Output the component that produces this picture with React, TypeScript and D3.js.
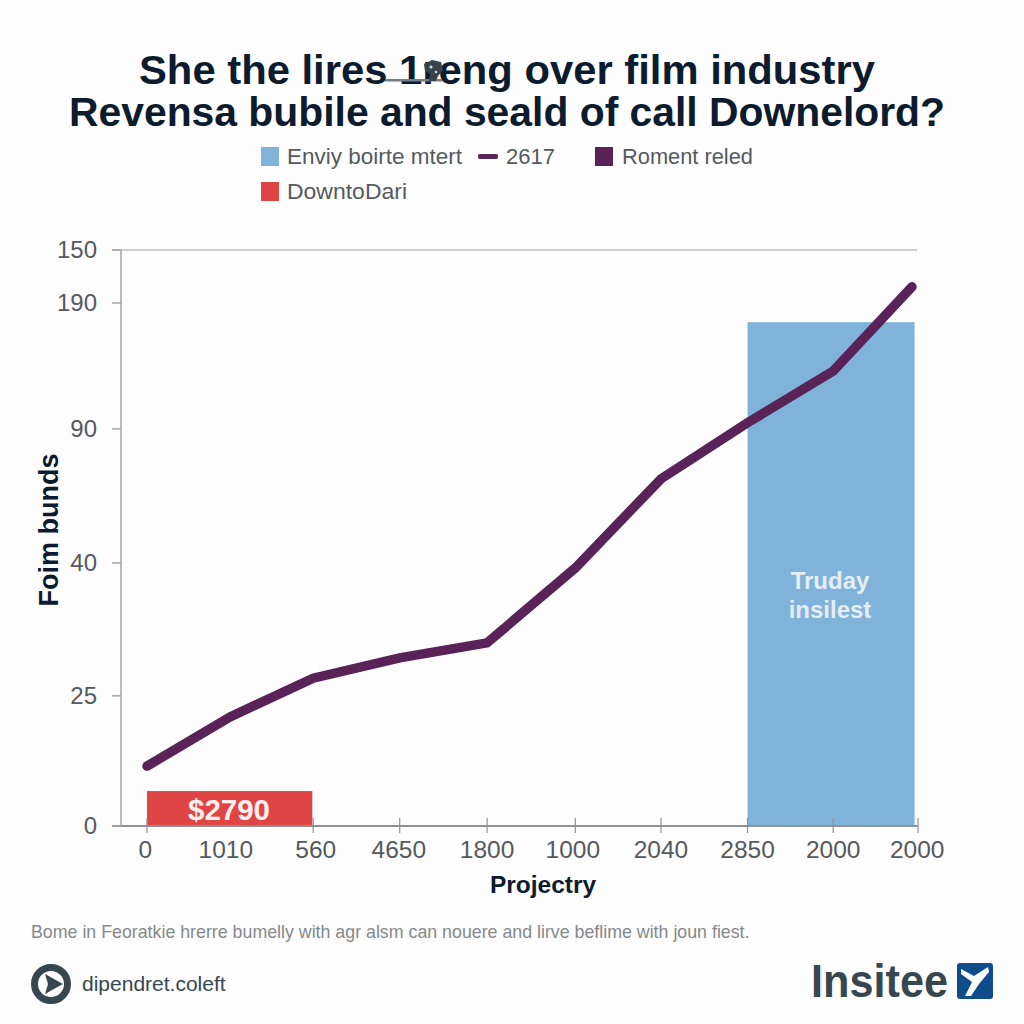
import React from 'react';
import * as d3 from 'd3';

const xTickLabels = ['0', '1010', '560', '4650', '1800', '1000', '2040', '2850', '2000', '2000'];
const xLabelPeriods = [-0.02, 0.92, 1.97, 2.94, 3.97, 4.97, 6, 7.01, 8.01, 8.99];
const xTickPeriods = [0, 1.94, 2.95, 3.97, 5, 6, 7.01, 8.01, 9];
const linePeriods = [0, 0.97, 1.94, 2.95, 3.97, 5, 6, 7.01, 8.01, 8.93];
const lineValues = [15.6, 28.4, 38.5, 43.8, 47.7, 67.2, 90.4, 105, 118.5, 140.4];
const yTickLabels = ['0', '25', '40', '90', '190', '150'];
const yTickValues = [0, 33.9, 68.5, 103.4, 136.2, 150];
const redBar = { from: 0, to: 1.93, value: 9.1, label: '$2790' };
const blueBar = { from: 7.01, to: 8.96, value: 131.2, label: ['Truday', 'insilest'] };
const titleLines = ['She the lires 1reng over film industry', 'Revensa bubile and seald of call Downelord?'];
const titleWidths = [736, 876];

const x = d3.scaleLinear().domain([0, 9]).range([147, 918]);
const y = d3.scaleLinear().domain([0, 150]).range([826, 250]);
const lineGen = d3
  .line<number>()
  .x((_, i) => x(linePeriods[i]))
  .y((d) => y(d));

const SANS = '"Liberation Sans", Arial, sans-serif';
const DARK = '#0c1b2e';
const GREY = '#555a5e';
const AXIS = '#a3a5a7';
const PURPLE = '#5a2358';
const BLUE = '#7fb3da';
const RED = '#e04545';
const SLATE = '#37474f';

export default function App() {
  return (
    <svg
      width={1024}
      height={1024}
      viewBox="0 0 1024 1024"
      style={{ position: 'absolute', left: 0, top: 0, background: '#fdfdfd', fontFamily: SANS }}
    >
      {titleLines.map((t, i) => (
        <text
          key={i}
          x={507}
          y={84 + i * 41.5}
          textAnchor="middle"
          fontSize={40.5}
          fontWeight={700}
          fill={DARK}
          textLength={titleWidths[i]}
          lengthAdjust="spacingAndGlyphs"
        >
          {t}
        </text>
      ))}
      <g>
        <rect x={385} y={79} width={57} height={2.5} fill="#767d83" />
        <path d="M424 64 L432 60 L441 62 L443 70 L438 76 L436 81 L429 81 L430 74 L425 71 Z" fill="#38434c" />
        <circle cx={431} cy={67} r={1.6} fill="#d5d8da" />
        <circle cx={436} cy={72} r={1.3} fill="#d5d8da" />
      </g>

      <g fontSize={22} fill={GREY}>
        <rect x={261} y={147} width={18} height={19} fill={BLUE} />
        <text x={287} y={164} textLength={175} lengthAdjust="spacingAndGlyphs">Enviy boirte mtert</text>
        <rect x={478} y={154} width={20} height={5} rx={2} fill={PURPLE} />
        <text x={506} y={164}>2617</text>
        <rect x={595} y={147} width={18} height={19} fill={PURPLE} />
        <text x={622} y={164} textLength={131} lengthAdjust="spacingAndGlyphs">Roment reled</text>
        <rect x={261} y={182} width={18} height={19} fill={RED} />
        <text x={287} y={199} textLength={120} lengthAdjust="spacingAndGlyphs">DowntoDari</text>
      </g>

      <rect x={x(blueBar.from)} y={y(blueBar.value)} width={x(blueBar.to) - x(blueBar.from)} height={y(0) - y(blueBar.value)} fill={BLUE} />
      <rect x={x(redBar.from)} y={y(redBar.value)} width={x(redBar.to) - x(redBar.from)} height={y(0) - y(redBar.value)} fill={RED} />

      <line x1={112} x2={917} y1={y(150)} y2={y(150)} stroke="#bdbfc0" strokeWidth={1.5} />
      <line x1={121} x2={121} y1={y(150)} y2={y(0)} stroke={AXIS} strokeWidth={1.5} />
      <line x1={112} x2={918} y1={y(0)} y2={y(0)} stroke="#8f9295" strokeWidth={1.8} />

      {yTickValues.map((v, i) => (
        <g key={i}>
          <line x1={112} x2={121} y1={y(v)} y2={y(v)} stroke={AXIS} strokeWidth={1.5} />
          <text x={97} y={y(v) + 8} textAnchor="end" fontSize={24} fill={GREY}>
            {yTickLabels[i]}
          </text>
        </g>
      ))}
      {xTickPeriods.map((p, i) => (
        <line key={i} x1={x(p)} x2={x(p)} y1={818} y2={833} stroke="#8f9295" strokeWidth={1.2} />
      ))}
      {xTickLabels.map((l, i) => (
        <text key={i} x={x(xLabelPeriods[i])} y={858} textAnchor="middle" fontSize={24.5} fill={GREY}>
          {l}
        </text>
      ))}

      <path d={lineGen(lineValues) ?? ''} fill="none" stroke={PURPLE} strokeWidth={9.5} strokeLinejoin="miter" strokeLinecap="round" />

      <text x={229} y={820} textAnchor="middle" fontSize={29.5} fontWeight={700} fill="#fdf0ee">{redBar.label}</text>
      {blueBar.label.map((l, i) => (
        <text key={i} x={830} y={589 + i * 29} textAnchor="middle" fontSize={24} fontWeight={700} fill="#e3eef6">{l}</text>
      ))}

      <text transform="translate(58,530) rotate(-90)" textAnchor="middle" fontSize={27} fontWeight={700} fill={DARK}>Foim bunds</text>
      <text x={543} y={893} textAnchor="middle" fontSize={24.5} fontWeight={700} fill={DARK}>Projectry</text>

      <text x={31} y={938} fontSize={17.8} fill="#85898c">Bome in Feoratkie hrerre bumelly with agr alsm can nouere and lirve beflime with joun fiest.</text>

      <circle cx={51} cy={984} r={16.5} fill="none" stroke={SLATE} strokeWidth={7} />
      <path d="M45 974 L63 984 L45 994 L48 984 Z" fill={SLATE} />
      <text x={82} y={991} fontSize={21} fill={SLATE}>dipendret.coleft</text>

      <text x={811} y={997} fontSize={47} fontWeight={700} fill={SLATE} textLength={137} lengthAdjust="spacingAndGlyphs">Insitee</text>
      <rect x={957} y={963} width={36} height={36} rx={3} fill="#0f4c8a" />
      <path d="M961 969 L974 976 L988 967 L989 972 L979 984 L971 996 L965 996 L972 982 L961 974 Z" fill="#fdfdfd" />
    </svg>
  );
}
